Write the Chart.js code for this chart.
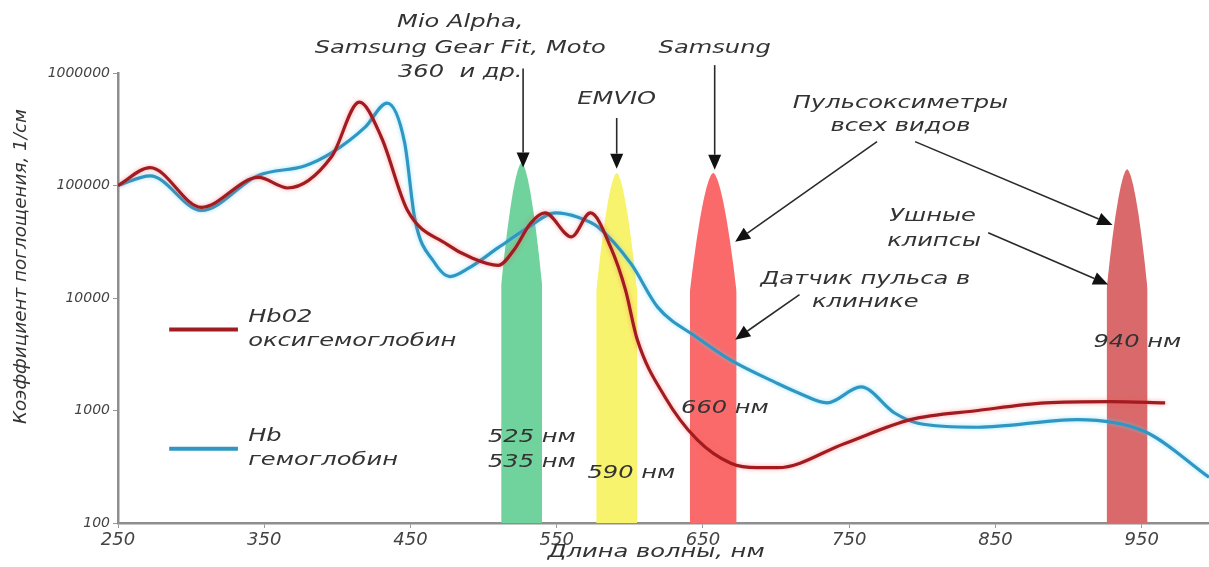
<!DOCTYPE html>
<html>
<head>
<meta charset="utf-8">
<script src="https://cdn.jsdelivr.net/npm/chart.js@4"></script>
<style>
  html, body { margin: 0; padding: 0; background: #fff; }
  #wrap { width: 1209px; height: 567px; }
</style>
</head>
<body>
<div id="wrap"><canvas id="chart"></canvas></div>
<script>
// HbO2 - oxyhemoglobin absorption
const hbo2Wavelength = [250, 272, 307, 346, 366, 396, 415, 430, 448, 475, 491, 510, 521, 532, 542, 560, 573, 587, 597, 605, 624, 646, 669, 687, 701, 747, 792, 838, 884, 929, 966];
const hbo2Values = [100000, 144000, 64000, 118000, 95000, 180000, 550000, 270000, 60000, 30000, 23000, 19500, 27000, 46000, 57000, 35000, 57000, 28000, 11800, 4300, 1320, 550, 340, 310, 310, 510, 830, 1000, 1170, 1200, 1170];

// Hb - hemoglobin absorption
const hbWavelength = [250, 272, 307, 346, 378, 396, 419, 434, 446, 453, 466, 477, 490, 510, 530, 549, 565, 578, 601, 619, 646, 669, 701, 715, 735, 758, 781, 797, 838, 906, 952, 996];
const hbValues = [100000, 122000, 60000, 123000, 150000, 195000, 330000, 540000, 240000, 50000, 21000, 15500, 18500, 28000, 42000, 57000, 52000, 43000, 20000, 8300, 4450, 2800, 1740, 1440, 1170, 1620, 950, 770, 710, 830, 650, 255];

// LED emission bands: centre, half width (nm), peak height
const bandCenters = [526, 591, 657, 940];
const bandHalfWidths = [14, 14, 16, 14];
const bandPeaks = [160000, 130000, 130000, 140000];

const xTicks = [250, 350, 450, 550, 650, 750, 850, 950];
const yTicks = [100, 1000, 10000, 100000, 1000000];

const bandColors = ["#70d29c", "#f8f36c", "#fa6a6a", "#d9696a"];
const FONT = '"DejaVu Sans", "Liberation Sans", sans-serif';
const TEXT_COLOR = "#333";
const STRETCH = 1.42;

// texts and arrows placed in data units: [nm, log10(value)]
const labels = [
  ["Mio Alpha,", 484, 6.45],
  ["Samsung Gear Fit, Moto", 484, 6.22],
  ["360  и др.", 484, 6.0],
  ["EMVIO", 591, 5.76],
  ["Samsung", 658, 6.22],
  ["Пульсоксиметры", 785, 5.73],
  ["всех видов", 785, 5.52],
  ["Ушные", 807, 4.72],
  ["клипсы", 808, 4.5],
  ["Датчик пульса в", 761, 4.16],
  ["клинике", 761, 3.96],
  ["940 нм", 947, 3.6],
  ["660 нм", 665, 3.02],
  ["525 нм", 533, 2.76],
  ["535 нм", 533, 2.54],
  ["590 нм", 601, 2.44],
];
const arrows = [
  [527, 6.04, 527, 5.16],
  [591, 5.6, 591, 5.15],
  [658, 6.07, 658, 5.14],
  [769, 5.39, 672, 4.5],
  [795, 5.39, 930, 4.65],
  [845, 4.58, 927, 4.12],
  [716, 4.03, 672, 3.63],
];
const legendItems = [
  { color: "#a01c20", lines: ["Hb02", "оксигемоглобин"], exp: 3.72 },
  { color: "#2f97c1", lines: ["Hb", "гемоглобин"], exp: 2.66 },
];

function toPoints(xs, ys) {
  return xs.map((x, i) => ({ x: x, y: ys[i] }));
}

// spike shaped band, filled down to the axis
function bandShape(c, hw, peak) {
  const hi = Math.log10(peak), lo = 2;
  const steps = [0.34, 0.26, 0.19, 0.13, 0.08, 0.045, 0.02, 0.006, 0];
  const pts = [{ x: c - hw, y: 100 }];
  steps.forEach((t) => {
    pts.push({ x: c - hw * Math.pow(t / 0.34, 0.6), y: Math.pow(10, hi - t * (hi - lo)) });
  });
  steps.slice(0, -1).reverse().forEach((t) => {
    pts.push({ x: c + hw * Math.pow(t / 0.34, 0.6), y: Math.pow(10, hi - t * (hi - lo)) });
  });
  pts.push({ x: c + hw, y: 100 });
  return pts;
}

function drawText(ctx, text, x, y, size, align) {
  ctx.save();
  ctx.translate(x, y);
  ctx.scale(STRETCH, 1);
  ctx.font = "italic " + size + "px " + FONT;
  ctx.fillStyle = TEXT_COLOR;
  ctx.textAlign = align || "center";
  ctx.textBaseline = "middle";
  ctx.fillText(text, 0, 0);
  ctx.restore();
}

function drawArrow(ctx, x1, y1, x2, y2) {
  const ang = Math.atan2(y2 - y1, x2 - x1);
  const len = 15, half = 6.5;
  const bx = x2 - len * Math.cos(ang), by = y2 - len * Math.sin(ang);
  ctx.save();
  ctx.strokeStyle = "#2a2a2a";
  ctx.fillStyle = "#111";
  ctx.lineWidth = 1.6;
  ctx.beginPath();
  ctx.moveTo(x1, y1);
  ctx.lineTo(bx, by);
  ctx.stroke();
  ctx.beginPath();
  ctx.moveTo(x2, y2);
  ctx.lineTo(bx + half * Math.sin(ang), by - half * Math.cos(ang));
  ctx.lineTo(bx - half * Math.sin(ang), by + half * Math.cos(ang));
  ctx.closePath();
  ctx.fill();
  ctx.restore();
}

// soft halo around the two absorption curves
const glowPlugin = {
  id: "glow",
  beforeDatasetDraw(chart, args) {
    const glow = args.meta.index === 0 ? "rgba(255,90,90,0.55)" : args.meta.index === 1 ? "rgba(90,210,255,0.6)" : null;
    if (!glow) return;
    chart.ctx.save();
    chart.ctx.shadowColor = glow;
    chart.ctx.shadowBlur = 4;
  },
  afterDatasetDraw(chart, args) {
    if (args.meta.index <= 1) chart.ctx.restore();
  },
};

const annotationPlugin = {
  id: "annotations",
  afterDatasetsDraw(chart) {
    const ctx = chart.ctx;
    const xs = chart.scales.x, ys = chart.scales.y;
    const px = (nm) => xs.getPixelForValue(nm);
    const py = (exp) => ys.getPixelForValue(Math.pow(10, exp));

    arrows.forEach((a) => drawArrow(ctx, px(a[0]), py(a[1]), px(a[2]), py(a[3])));
    labels.forEach((l) => drawText(ctx, l[0], px(l[1]), py(l[2]), 17));

    // legend
    legendItems.forEach((item) => {
      const y = py(item.exp);
      ctx.save();
      ctx.strokeStyle = item.color;
      ctx.lineWidth = 4;
      ctx.beginPath();
      ctx.moveTo(px(285), y);
      ctx.lineTo(px(332), y);
      ctx.stroke();
      ctx.restore();
      drawText(ctx, item.lines[0], px(339), y - 12, 17, "left");
      drawText(ctx, item.lines[1], px(339), y + 12, 17, "left");
    });

    // axis titles
    drawText(ctx, "Длина волны, нм", px(618), 553, 17);
    ctx.save();
    ctx.translate(22, py(4.28));
    ctx.rotate(-Math.PI / 2);
    ctx.scale(1.08, 1);
    ctx.font = "italic 17px " + FONT;
    ctx.fillStyle = TEXT_COLOR;
    ctx.textAlign = "center";
    ctx.textBaseline = "middle";
    ctx.fillText("Коэффициент поглощения, 1/см", 0, 0);
    ctx.restore();
  },
};

const bandDatasets = bandCenters.map((c, i) => ({
  label: "band " + c,
  data: bandShape(c, bandHalfWidths[i], bandPeaks[i]),
  borderWidth: 0,
  backgroundColor: bandColors[i],
  fill: "start",
  pointRadius: 0,
  tension: 0,
  order: 2,
}));

new Chart(document.getElementById("chart"), {
  type: "line",
  data: {
    datasets: [
      {
        label: "Hb02 оксигемоглобин",
        data: toPoints(hbo2Wavelength, hbo2Values),
        borderColor: "#a01c20",
        borderWidth: 3.2,
        pointRadius: 0,
        cubicInterpolationMode: "monotone",
        fill: false,
        order: 0,
      },
      {
        label: "Hb гемоглобин",
        data: toPoints(hbWavelength, hbValues),
        borderColor: "#2f97c1",
        borderWidth: 3.2,
        pointRadius: 0,
        cubicInterpolationMode: "monotone",
        fill: false,
        order: 1,
      },
      ...bandDatasets,
    ],
  },
  options: {
    responsive: true,
    maintainAspectRatio: false,
    animation: false,
    layout: { padding: { top: 73, right: 0, left: 0, bottom: 0 } },
    plugins: {
      legend: { display: false },
      tooltip: { enabled: false },
    },
    scales: {
      x: {
        type: "linear",
        min: 250,
        max: 996,
        afterBuildTicks: (scale) => { scale.ticks = xTicks.map((v) => ({ value: v })); },
        afterFit: (scale) => { scale.height = 44; },
        grid: { drawOnChartArea: false, tickLength: 5, color: "#999" },
        border: { color: "#8e8e8e", width: 2.5 },
        ticks: { color: "#444", padding: 2, font: { family: FONT, size: 18, style: "italic" } },
      },
      y: {
        type: "logarithmic",
        min: 100,
        max: 1000000,
        afterBuildTicks: (scale) => { scale.ticks = yTicks.map((v) => ({ value: v })); },
        afterFit: (scale) => { scale.width = 118; },
        grid: { drawOnChartArea: false, tickLength: 5, color: "#999" },
        border: { color: "#8e8e8e", width: 2.5 },
        ticks: {
          color: "#444",
          padding: 3,
          font: { family: FONT, size: 14, style: "italic" },
          callback: (v) => String(v),
        },
      },
    },
  },
  plugins: [glowPlugin, annotationPlugin],
});
</script>
</body>
</html>
